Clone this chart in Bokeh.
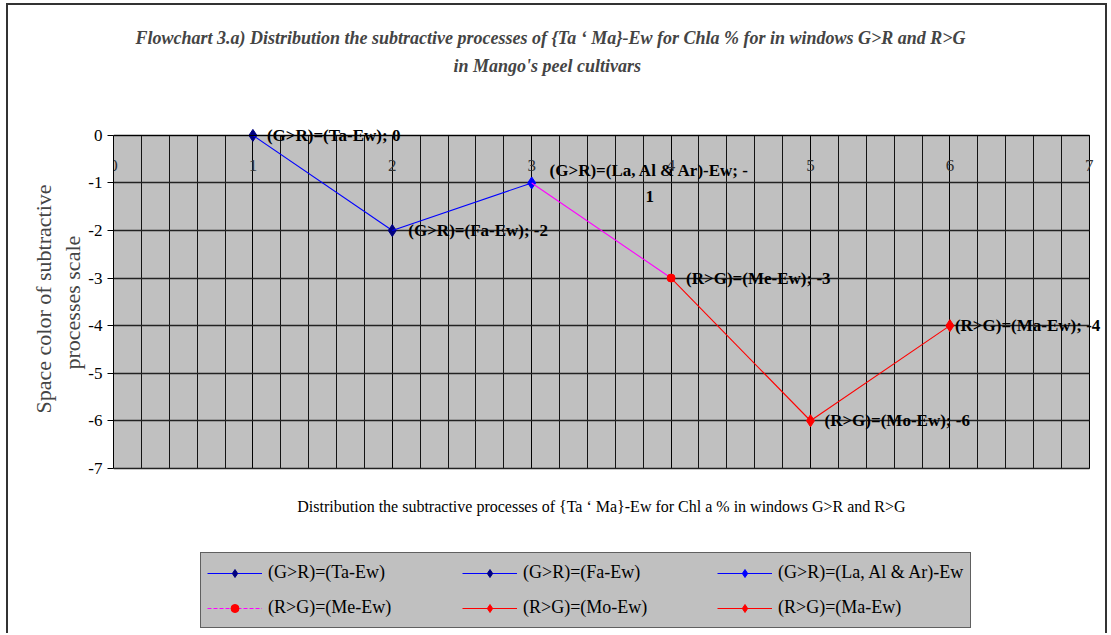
from bokeh.plotting import figure
from bokeh.models import (ColumnDataSource, LabelSet, Legend, LegendItem, Title, Label,
                          SingleIntervalTicker, FixedTicker, Range1d, BoxAnnotation)
from bokeh.embed import file_html
from bokeh.resources import INLINE

# ---------------- data ----------------
title_line1 = "Flowchart 3.a) Distribution the subtractive processes of {Ta \u2018 Ma}-Ew for Chla %  for  in windows G>R and R>G"
title_line2 = "in Mango's peel cultivars"
x_title = "Distribution the subtractive processes of {Ta \u2018 Ma}-Ew for Chl a % in windows G>R and R>G"
y_title_line1 = "Space color of subtractive"
y_title_line2 = "processes scale"

series_names = ["(G>R)=(Ta-Ew)", "(G>R)=(Fa-Ew)", "(G>R)=(La, Al & Ar)-Ew",
                "(R>G)=(Me-Ew)", "(R>G)=(Mo-Ew)", "(R>G)=(Ma-Ew)"]
x_vals = [1, 2, 3, 4, 5, 6]
y_vals = [0, -2, -1, -3, -6, -4]
x_ticks = [0, 1, 2, 3, 4, 5, 6, 7]
y_ticks = [0, -1, -2, -3, -4, -5, -6, -7]

# ---------------- styles ----------------
marker_colors = ["#000080", "#000080", "#0000FF", "#FF0000", "#FF0000", "#FF0000"]
line_colors = ["#0000FF", "#0000FF", "#0000FF", "#FF00FF", "#FF0000", "#FF0000"]
marker_types = ["diamond", "diamond", "diamond", "circle", "diamond", "diamond"]
label_x_offsets = [14, 16, 0, 15, 14, 5]
SERIF = "Liberation Serif"
GRAY = "#C0C0C0"
LABEL_SIZE = "17px"

x0, x1 = min(x_ticks), max(x_ticks)
y0, y1 = min(y_ticks), max(y_ticks)

p = figure(width=1101, height=630, output_backend="svg", toolbar_location=None,
           x_range=Range1d(x0, x1 + 0.145), y_range=Range1d(y0 - 3.41, y1 + 0.25),
           min_border_left=105, min_border_right=0, min_border_top=118,
           min_border_bottom=5)
p.margin = (3, 2, 0, 6)
p.styles = {"border-top": "2px solid #333333", "border-left": "2px solid #333333",
            "border-right": "2px solid #333333"}

p.background_fill_color = "white"
p.border_fill_color = "white"
p.outline_line_color = None

# gray plot area
p.add_layout(BoxAnnotation(left=x0, right=x1, bottom=y0, top=y1, fill_color=GRAY,
                           fill_alpha=1.0, line_color="#808080", line_width=1,
                           level="image"))

# axes
p.xaxis.ticker = SingleIntervalTicker(interval=1, num_minor_ticks=5)
p.xaxis.fixed_location = 0
p.xaxis.bounds = (x0, x1)
p.xaxis.major_tick_out = 0
p.xaxis.major_tick_in = 0
p.xaxis.minor_tick_out = 0
p.xaxis.minor_tick_in = 0
p.xaxis.major_label_standoff = 25
p.xaxis.axis_line_color = "black"
p.xaxis.major_label_text_font = SERIF
p.xaxis.major_label_text_font_size = "17px"
p.xaxis.major_label_text_color = "#333333"

p.yaxis.ticker = FixedTicker(ticks=y_ticks)
p.yaxis.bounds = (y0, y1)
p.yaxis.major_label_overrides = {t: str(t) for t in y_ticks}
p.yaxis.major_tick_out = 6
p.yaxis.major_tick_in = 0
p.yaxis.minor_tick_out = 0
p.yaxis.axis_line_color = "black"
p.yaxis.major_label_text_font = SERIF
p.yaxis.major_label_text_font_size = "17px"
p.yaxis.major_label_text_color = "black"

p.xgrid.cross_bounds = (y0, y1)
p.ygrid.cross_bounds = (x0, x1)
p.ygrid.ticker = FixedTicker(ticks=y_ticks)
p.xgrid.grid_line_color = "black"
p.xgrid.minor_grid_line_color = "black"
p.xgrid.grid_line_alpha = 0.9
p.xgrid.minor_grid_line_alpha = 0.9
p.ygrid.grid_line_color = "#222222"
p.ygrid.grid_line_width = 1.5

# y axis title (two rotated lines; innermost first)
p.add_layout(Title(text=y_title_line2, text_font=SERIF, text_font_style="normal",
                   text_font_size="22px", align="left", offset=261, standoff=2), "left")
p.add_layout(Title(text=y_title_line1, text_font=SERIF, text_font_style="normal",
                   text_font_size="22px", align="left", offset=217, standoff=1), "left")

# chart titles (innermost first; a blank spacer keeps them up)
p.add_layout(Title(text=" ", text_font_size="18px", standoff=23), "above")
p.add_layout(Title(text=title_line2, text_font=SERIF, text_font_style="bold italic",
                   text_font_size="18px", align="left", offset=340, standoff=6), "above")
p.add_layout(Title(text=title_line1, text_font=SERIF, text_font_style="bold italic",
                   text_font_size="18px", align="left", offset=22, standoff=6), "above")

# x axis title
p.add_layout(Label(x=(x0 + x1) / 2, y=124, y_units="screen", text=x_title,
                   text_align="center", text_baseline="middle", text_font=SERIF,
                   text_font_size="16px", text_color="black"))

# series
seg_renderers = {}
marker_renderers = []
for k in range(len(series_names)):
    if k > 0:
        seg = ColumnDataSource(dict(x=x_vals[k - 1:k + 1], y=y_vals[k - 1:k + 1]))
        seg_renderers[k] = p.line("x", "y", source=seg, line_color=line_colors[k], line_width=1.1)
    pt = ColumnDataSource(dict(x=x_vals[k:k + 1], y=y_vals[k:k + 1]))
    if marker_types[k] == "circle":
        mk = p.scatter("x", "y", source=pt, marker="circle", size=8,
                       fill_color=marker_colors[k], line_color=marker_colors[k])
    else:
        mk = p.scatter("x", "y", source=pt, marker="diamond", size=12,
                       fill_color=marker_colors[k], line_color=marker_colors[k])
    marker_renderers.append(mk)

nan = float("nan")
legend_me_line = p.line([nan, nan], [nan, nan], line_color=line_colors[3],
                        line_width=1, line_dash="4 2")
items = []
for k, name in enumerate(series_names):
    if k == 0:
        ln = seg_renderers[1]
    elif k == 3:
        ln = legend_me_line
    else:
        ln = seg_renderers[k]
    items.append(LegendItem(label=name, renderers=[ln, marker_renderers[k]]))

# data labels
labels = [f"{n}; {v}" for n, v in zip(series_names, y_vals)]
idx_main = [0, 1, 3, 4, 5]
lab_src = ColumnDataSource(dict(x=[x_vals[i] for i in idx_main],
                                y=[y_vals[i] for i in idx_main],
                                text=[labels[i] for i in idx_main],
                                xo=[label_x_offsets[i] for i in idx_main]))
p.add_layout(LabelSet(x="x", y="y", text="text", source=lab_src, x_offset="xo",
                      text_baseline="middle", text_font=SERIF, text_font_style="bold",
                      text_font_size=LABEL_SIZE, text_color="black"))
# label of point 3 wraps onto two lines in the reference
head, tail = labels[2].rsplit("-", 1)
for part, dy in ((head + "-", 12), (tail, -14)):
    p.add_layout(Label(x=x_vals[2], y=y_vals[2], text=part, x_offset=118, y_offset=dy,
                       text_align="center", text_baseline="middle", text_font=SERIF,
                       text_font_style="bold", text_font_size=LABEL_SIZE, text_color="black"))

legend = Legend(items=items, orientation="horizontal", ncols=3,
                background_fill_color=GRAY, background_fill_alpha=1.0,
                border_line_color="black", border_line_width=1,
                label_text_font=SERIF, label_text_font_size="18px",
                label_text_color="black",
                glyph_width=55, glyph_height=20, label_standoff=6, label_width=186,
                label_height=27, spacing=8, padding=6, margin=0, location=(87, 2))
p.add_layout(legend, "center")

open("out.html", "w").write(file_html(p, INLINE))
